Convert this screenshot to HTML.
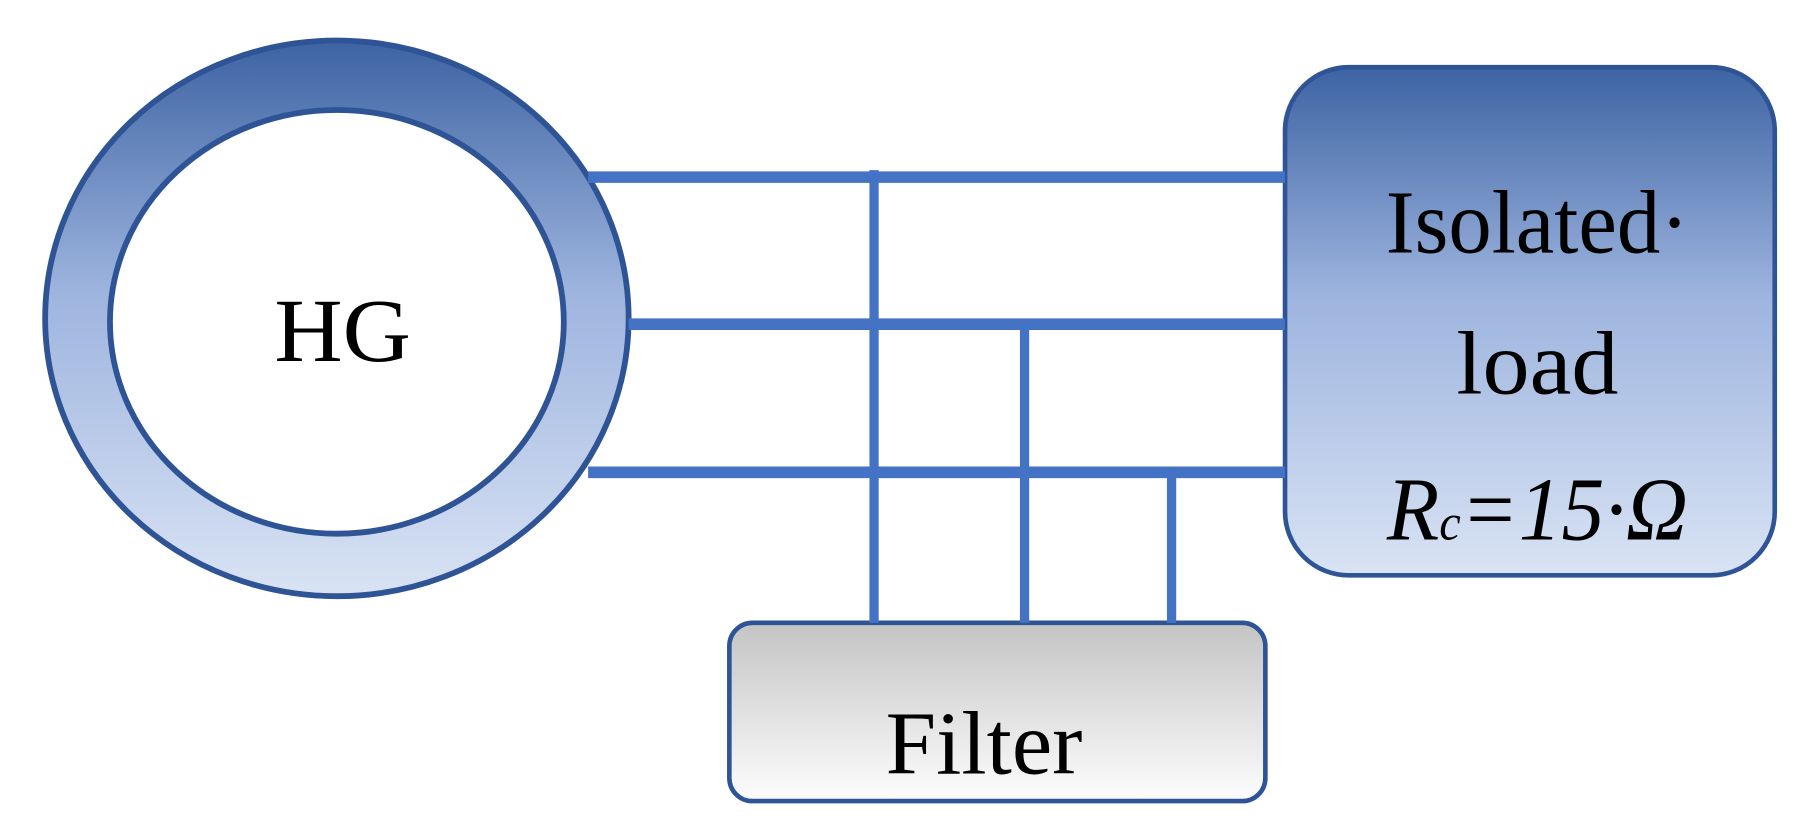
<!DOCTYPE html>
<html><head><meta charset="utf-8"><style>html,body{margin:0;padding:0;background:#fff;}svg{display:block}</style></head>
<body>
<svg width="1806" height="837" viewBox="0 0 1560 723" preserveAspectRatio="none" xmlns="http://www.w3.org/2000/svg">
<defs>
<linearGradient id="b" x1="0" y1="0" x2="0" y2="1"><stop offset="0" stop-color="#3d63a3"/><stop offset="0.45" stop-color="#9db4de"/><stop offset="1" stop-color="#d9e3f4"/></linearGradient>
<linearGradient id="g" x1="0" y1="0" x2="0" y2="1"><stop offset="0" stop-color="#c4c4c4"/><stop offset="1" stop-color="#fdfdfd"/></linearGradient>
</defs>
<ellipse cx="291" cy="275" rx="252" ry="240" fill="url(#b)" stroke="#2f5496" stroke-width="5"/>
<ellipse cx="291" cy="278" rx="196" ry="183" fill="#fff" stroke="#2f5496" stroke-width="5"/>
<rect x="1110" y="58" width="423" height="439" rx="55" fill="url(#b)" stroke="#2f5496" stroke-width="4"/>
<rect x="630" y="538" width="463" height="154" rx="20" fill="url(#g)" stroke="#2f5496" stroke-width="4"/>
<g stroke="#4472c4" fill="none">
<line x1="508" y1="153" x2="1110" y2="153" stroke-width="10"/>
<line x1="543" y1="280" x2="1110" y2="280" stroke-width="10"/>
<line x1="508" y1="408" x2="1110" y2="408" stroke-width="10"/>
<line x1="755" y1="147" x2="755" y2="538" stroke-width="8"/>
<line x1="885" y1="285" x2="885" y2="538" stroke-width="8"/>
<line x1="1012" y1="403" x2="1012" y2="538" stroke-width="8"/>
</g>
<g font-family="Liberation Serif, serif" font-size="78" fill="#000" text-anchor="middle">
<text x="296" y="312" textLength="118" lengthAdjust="spacingAndGlyphs">HG</text>
<text x="1328" y="218" textLength="262" lengthAdjust="spacingAndGlyphs">Isolated·</text>
<text x="1328" y="340" textLength="140" lengthAdjust="spacingAndGlyphs">load</text>
<text x="1328" y="466" font-style="italic" textLength="260" lengthAdjust="spacingAndGlyphs">R<tspan font-size="44">c</tspan>=15·Ω</text>
<text x="850" y="668" textLength="170" lengthAdjust="spacingAndGlyphs">Filter</text>
</g>
</svg>
</body></html>
